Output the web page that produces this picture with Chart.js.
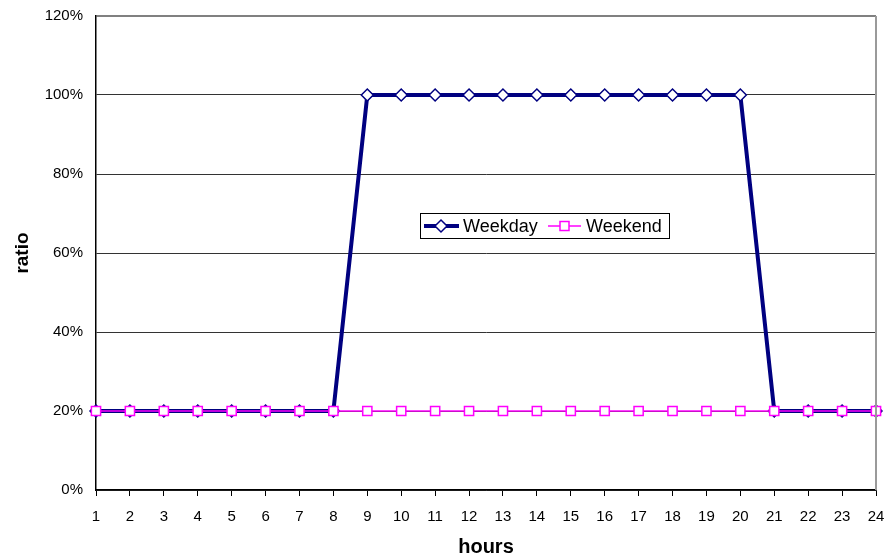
<!DOCTYPE html>
<html>
<head>
<meta charset="utf-8">
<script src="https://cdn.jsdelivr.net/npm/chart.js@4/dist/chart.umd.min.js"></script>
<style>
  html, body { margin: 0; padding: 0; background: #fff; }
  #wrap { width: 886px; height: 559px; }
</style>
</head>
<body>
<div id="wrap"><canvas id="grafico" width="886" height="559"></canvas></div>
<script>
// ====== Datos ======
const horas = ['1','2','3','4','5','6','7','8','9','10','11','12','13','14','15','16','17','18','19','20','21','22','23','24'];
const weekday = [20,20,20,20,20,20,20,20,100,100,100,100,100,100,100,100,100,100,100,100,20,20,20,20];
const weekend = [20,20,20,20,20,20,20,20,20,20,20,20,20,20,20,20,20,20,20,20,20,20,20,20];
const yTicks = [0, 20, 40, 60, 80, 100, 120];

const fuente = "Arial, 'Liberation Sans', sans-serif";

// ====== Leyenda dentro del gráfico + borde derecho ======
const extras = {
  id: 'extras',
  afterDraw(chart) {
    const c = chart.ctx;
    const a = chart.chartArea;
    c.save();
    // borde derecho gris
    c.strokeStyle = '#9a9a9a';
    c.lineWidth = 2;
    c.beginPath();
    c.moveTo(a.right, a.top);
    c.lineTo(a.right, a.bottom);
    c.stroke();

    // caja de leyenda
    const bx = 420, by = 213, bw = 249, bh = 25;
    c.fillStyle = '#fff';
    c.fillRect(bx, by, bw, bh);
    c.strokeStyle = '#000';
    c.lineWidth = 1;
    c.strokeRect(bx + 0.5, by + 0.5, bw, bh);
    const cy = by + bh / 2 + 0.5;

    // Weekday
    c.strokeStyle = '#000080';
    c.lineWidth = 4;
    c.beginPath(); c.moveTo(424, cy); c.lineTo(459, cy); c.stroke();
    c.fillStyle = '#fff';
    c.lineWidth = 1.5;
    c.beginPath();
    c.moveTo(441, cy - 6); c.lineTo(447, cy); c.lineTo(441, cy + 6); c.lineTo(435, cy); c.closePath();
    c.fill(); c.stroke();

    // Weekend
    c.strokeStyle = '#ff00ff';
    c.lineWidth = 1.5;
    c.beginPath(); c.moveTo(548, cy); c.lineTo(581, cy); c.stroke();
    c.fillRect(560, cy - 4.5, 9, 9);
    c.strokeRect(560, cy - 4.5, 9, 9);

    c.fillStyle = '#000';
    c.font = '18px ' + fuente;
    c.textBaseline = 'middle';
    c.fillText('Weekday', 463, cy + 1);
    c.fillText('Weekend', 586, cy + 1);
    c.restore();
  }
};

const ctx = document.getElementById('grafico').getContext('2d');
const grafico = new Chart(ctx, {
  type: 'line',
  data: {
    labels: horas,
    datasets: [{
      label: 'Weekday',
      data: weekday,
      borderColor: '#000080',
      backgroundColor: '#ffffff',
      borderWidth: 4,
      pointStyle: 'rectRot',
      pointRadius: 6,
      pointBorderWidth: 1.5,
      pointBorderColor: '#000080',
      pointBackgroundColor: '#ffffff',
      tension: 0,
      order: 2
    }, {
      label: 'Weekend',
      data: weekend,
      borderColor: '#ff00ff',
      backgroundColor: '#ffffff',
      borderWidth: 1.5,
      pointStyle: 'rect',
      pointRadius: 6.5,
      pointBorderWidth: 1.5,
      pointBorderColor: '#ff00ff',
      pointBackgroundColor: '#ffffff',
      tension: 0,
      order: 1
    }]
  },
  options: {
    responsive: false,
    animation: false,
    layout: { padding: { top: 16, right: 10, left: 0, bottom: 0 } },
    plugins: {
      legend: { display: false },
      tooltip: { enabled: false }
    },
    scales: {
      x: {
        offset: false,
        grid: {
          drawOnChartArea: false,
          drawTicks: true,
          tickLength: 6,
          color: '#000'
        },
        border: { color: '#000', width: 1.5 },
        ticks: {
          color: '#000',
          font: { family: fuente, size: 15 },
          padding: 12,
          maxRotation: 0,
          autoSkip: false
        },
        title: {
          display: true,
          text: 'hours',
          color: '#000',
          font: { family: fuente, size: 20, weight: 'bold' },
          padding: { top: 0, bottom: 0 }
        },
        afterFit(scale) {
          scale.height = 69;
          scale.paddingLeft = 0;
          scale.paddingRight = 0;
        }
      },
      y: {
        min: 0,
        max: 120,
        afterBuildTicks(scale) { scale.ticks = yTicks.map(v => ({ value: v })); },
        grid: {
          drawTicks: false,
          color: (c) => c.tick && c.tick.value === 120 ? '#808080' : '#333',
          lineWidth: (c) => c.tick && c.tick.value === 120 ? 2 : 1
        },
        border: { color: '#000', width: 1.5 },
        ticks: {
          color: '#000',
          font: { family: fuente, size: 15 },
          padding: 13,
          callback: (v) => v + '%'
        },
        title: {
          display: true,
          text: 'ratio',
          color: '#000',
          font: { family: fuente, size: 19, weight: 'bold' },
          padding: { top: 11, bottom: 0 }
        },
        afterFit(scale) {
          scale.width = 96;
          scale.paddingTop = 0;
          scale.paddingBottom = 0;
        }
      }
    }
  },
  plugins: [extras]
});
</script>
</body>
</html>
